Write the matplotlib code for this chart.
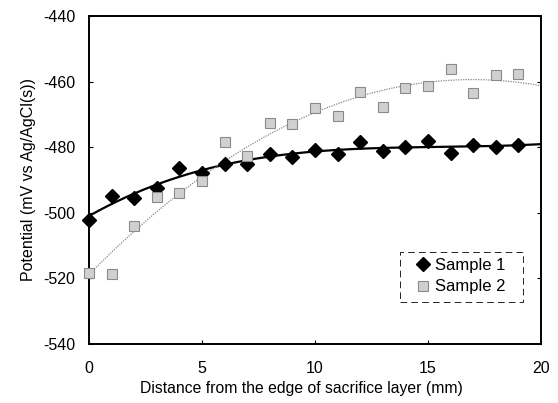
import numpy as np
import matplotlib
matplotlib.use("Agg")
import matplotlib.pyplot as plt
from matplotlib.patches import Rectangle

plt.rcParams['font.family'] = ['Liberation Sans', 'DejaVu Sans']
plt.rcParams['axes.unicode_minus'] = False

# Data
distance = np.arange(20)
sample1 = [-502.2, -494.9, -495.5, -492.5, -486.2, -487.8, -485.1, -485.2, -482.1, -483.1,
           -480.9, -482.2, -478.3, -481.2, -479.8, -478.2, -481.8, -479.2, -479.9, -479.3]
sample2 = [-518.4, -518.8, -504.0, -495.3, -494.0, -490.4, -478.3, -482.7, -472.5, -473.0,
           -467.9, -470.5, -463.1, -467.6, -462.0, -461.3, -456.2, -463.6, -458.0, -457.7]

fig = plt.figure(figsize=(5.58, 4.03), dpi=100)
ax = fig.add_axes([0.1595, 0.1464, 0.81, 0.8139])

# trendlines (polynomial fits like a spreadsheet would draw)
xx = np.linspace(0, 20, 200)
fit1 = np.polyval(np.polyfit(distance, sample1, 3), xx)
fit2 = np.polyval(np.polyfit(distance, sample2, 2), xx)
ax.plot(xx, fit1, color="black", linewidth=1.6, zorder=2)
ax.plot(xx, fit2, color="#888888", linewidth=0.9, linestyle=(0, (1, 1)), zorder=2)

ax.plot(distance, sample1, linestyle="none", marker="D", markersize=7.2,
        color="black", label="Sample 1", zorder=3, clip_on=False)
ax.plot(distance, sample2, linestyle="none", marker="s", markersize=6.5,
        markerfacecolor="#d0d0d0", markeredgecolor="#8a8a8a", markeredgewidth=0.8,
        label="Sample 2", zorder=3, clip_on=False)

ax.set_xlim(0, 20)
ax.set_ylim(-540, -440)
ax.set_xticks([0, 5, 10, 15, 20])
ax.set_yticks([-540, -520, -500, -480, -460, -440])
ax.tick_params(direction="in", length=3, labelsize=11.5, width=0.8,
               top=False, right=True)
ax.tick_params(axis="x", pad=12)
ax.tick_params(axis="y", pad=10)
for s in ax.spines.values():
    s.set_linewidth(1.4)

ax.set_xlabel("Distance from the edge of sacrifice layer (mm)", fontsize=11.3)
ax.xaxis.set_label_coords(0.469, -0.113)
ax.set_ylabel("Potential (mV vs Ag/AgCl(s))", fontsize=11.5, labelpad=5)

# legend without frame, dashed box drawn separately
leg = ax.legend(loc="upper left", bbox_to_anchor=(0.724, 0.262), fontsize=12,
                frameon=False, handlelength=0.8, handletextpad=0.35,
                borderpad=0, borderaxespad=0, labelspacing=0.38)
ax.add_patch(Rectangle((0.688, 0.128), 0.272, 0.152, transform=ax.transAxes,
                       fill=False, edgecolor="black", linewidth=0.6,
                       linestyle=(0, (8, 5)), zorder=4))

fig.savefig("out.png", dpi=100)
